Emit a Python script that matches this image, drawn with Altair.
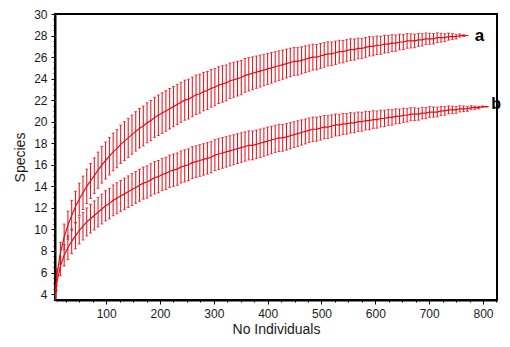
import altair as alt
import pandas as pd

RED = "#e60a14"

# ---- data: rarefaction curves (mean species, 95% half-width) ----
a_n = list(range(1, 765, 7)) + [770]
a_s = [1.0, 5.6, 7.8, 9.3, 10.4, 11.3, 12.1, 12.8, 13.4, 14.0,
       14.5, 15.0, 15.5, 16.0, 16.4, 16.8, 17.2, 17.5, 17.9, 18.2,
       18.5, 18.8, 19.1, 19.4, 19.6, 19.9, 20.1, 20.4, 20.6, 20.8,
       21.0, 21.2, 21.4, 21.6, 21.8, 22.0, 22.1, 22.3, 22.5, 22.6,
       22.8, 22.9, 23.1, 23.2, 23.4, 23.5, 23.6, 23.8, 23.9, 24.0,
       24.1, 24.3, 24.4, 24.5, 24.6, 24.7, 24.8, 24.9, 25.0, 25.1,
       25.2, 25.3, 25.4, 25.5, 25.6, 25.6, 25.7, 25.8, 25.9, 26.0,
       26.0, 26.1, 26.2, 26.3, 26.3, 26.4, 26.5, 26.5, 26.6, 26.7,
       26.7, 26.8, 26.8, 26.9, 27.0, 27.0, 27.1, 27.1, 27.2, 27.2,
       27.3, 27.3, 27.4, 27.4, 27.5, 27.5, 27.5, 27.6, 27.6, 27.7,
       27.7, 27.7, 27.8, 27.8, 27.8, 27.9, 27.9, 27.9, 28.0, 28.0,
       28.0]
a_h = [0.0, 0.8, 1.0, 1.2, 1.3, 1.4, 1.45, 1.5, 1.55, 1.6,
       1.62, 1.65, 1.68, 1.7, 1.72, 1.74, 1.75, 1.77, 1.78, 1.8,
       1.81, 1.82, 1.83, 1.84, 1.85, 1.86, 1.87, 1.87, 1.88, 1.88,
       1.88, 1.88, 1.87, 1.87, 1.86, 1.86, 1.85, 1.84, 1.83, 1.81,
       1.79, 1.77, 1.75, 1.73, 1.71, 1.69, 1.67, 1.65, 1.63, 1.61,
       1.59, 1.57, 1.55, 1.52, 1.5, 1.48, 1.46, 1.44, 1.42, 1.4,
       1.38, 1.36, 1.34, 1.32, 1.3, 1.28, 1.26, 1.24, 1.22, 1.2,
       1.18, 1.16, 1.14, 1.12, 1.1, 1.08, 1.06, 1.04, 1.02, 1.0,
       0.98, 0.96, 0.94, 0.92, 0.9, 0.88, 0.86, 0.84, 0.82, 0.8,
       0.78, 0.76, 0.73, 0.71, 0.68, 0.66, 0.63, 0.6, 0.57, 0.54,
       0.51, 0.48, 0.45, 0.41, 0.37, 0.33, 0.28, 0.22, 0.15, 0.07,
       0.0]

b_n = list(range(1, 807, 7)) + [808]
b_s = [1.0, 5.0, 6.6, 7.6, 8.3, 8.9, 9.4, 9.9, 10.3, 10.7,
       11.0, 11.3, 11.6, 11.9, 12.2, 12.4, 12.7, 12.9, 13.1, 13.3,
       13.5, 13.7, 13.9, 14.1, 14.3, 14.4, 14.6, 14.8, 14.9, 15.1,
       15.2, 15.4, 15.5, 15.6, 15.8, 15.9, 16.0, 16.2, 16.3, 16.4,
       16.5, 16.6, 16.7, 16.9, 17.0, 17.1, 17.2, 17.3, 17.4, 17.5,
       17.6, 17.7, 17.8, 17.8, 17.9, 18.0, 18.1, 18.2, 18.3, 18.4,
       18.5, 18.5, 18.6, 18.7, 18.8, 18.9, 19.0, 19.1, 19.2, 19.3,
       19.3, 19.4, 19.5, 19.5, 19.6, 19.7, 19.7, 19.8, 19.8, 19.9,
       19.9, 20.0, 20.0, 20.1, 20.1, 20.2, 20.2, 20.3, 20.3, 20.4,
       20.4, 20.5, 20.5, 20.6, 20.6, 20.7, 20.7, 20.7, 20.8, 20.8,
       20.9, 20.9, 20.9, 21.0, 21.0, 21.1, 21.1, 21.1, 21.2, 21.2,
       21.2, 21.3, 21.3, 21.3, 21.4, 21.4,
       21.4]
b_h = [0.0, 0.7, 0.9, 1.0, 1.1, 1.15, 1.2, 1.25, 1.28, 1.3,
       1.33, 1.35, 1.37, 1.39, 1.4, 1.42, 1.43, 1.44, 1.45, 1.46,
       1.47, 1.48, 1.48, 1.49, 1.49, 1.5, 1.5, 1.5, 1.5, 1.5,
       1.5, 1.5, 1.5, 1.5, 1.49, 1.49, 1.48, 1.48, 1.47, 1.47,
       1.46, 1.46, 1.45, 1.44, 1.43, 1.42, 1.41, 1.4, 1.39, 1.38,
       1.37, 1.36, 1.35, 1.34, 1.33, 1.32, 1.31, 1.3, 1.28, 1.27,
       1.26, 1.24, 1.23, 1.22, 1.2, 1.19, 1.17, 1.16, 1.14, 1.13,
       1.11, 1.1, 1.08, 1.06, 1.04, 1.02, 1.0, 0.98, 0.96, 0.94,
       0.92, 0.9, 0.88, 0.86, 0.84, 0.82, 0.8, 0.78, 0.76, 0.74,
       0.72, 0.7, 0.68, 0.66, 0.63, 0.61, 0.59, 0.56, 0.54, 0.52,
       0.5, 0.47, 0.45, 0.42, 0.4, 0.37, 0.35, 0.32, 0.29, 0.26,
       0.23, 0.19, 0.15, 0.11, 0.06, 0.02,
       0.0]

x_major = [100, 200, 300, 400, 500, 600, 700, 800]
y_major = list(range(4, 31, 2))
x_minor = list(range(25, 826, 25))
y_minor = [v / 2 for v in range(8, 61)]

rows = []
for name, ns, ss, hs in [("a", a_n, a_s, a_h), ("b", b_n, b_s, b_h)]:
    for n, s, h in zip(ns, ss, hs):
        rows.append({"series": name, "n": n, "s": s, "lo": s - h, "hi": s + h})
df = pd.DataFrame(rows)

labels = pd.DataFrame({
    "series": ["a", "b"],
    "n": [a_n[-1], b_n[-1]],
    "s": [a_s[-1], b_s[-1]],
    "text": ["a", "b"],
})

FONT = "Liberation Sans"
xs = alt.Scale(domain=[5, 826], nice=False, zero=False)
ys = alt.Scale(domain=[3.45, 30], nice=False, zero=False)

major_x = alt.Axis(values=x_major, orient="bottom", title="No Individuals", grid=False,
                   domainColor="black", domainWidth=2, tickColor="black", tickSize=4,
                   labelFont=FONT, labelFontSize=12, labelColor="#1a1a1a", labelPadding=4,
                   titleFont=FONT, titleFontSize=14, titleFontWeight="normal",
                   titleColor="#1a1a1a", titlePadding=3, labelFlush=False)
major_y = alt.Axis(values=y_major, orient="left", title="Species", grid=False,
                   domainColor="black", domainWidth=2, tickColor="black", tickSize=4,
                   labelFont=FONT, labelFontSize=12, labelColor="#1a1a1a", labelPadding=4,
                   titleFont=FONT, titleFontSize=14, titleFontWeight="normal",
                   titleColor="#1a1a1a", titlePadding=6, labelFlush=False)
minor_x = alt.Axis(values=x_minor, orient="bottom", title="", grid=False, labels=False,
                   domain=False, tickColor="black", tickSize=2)
minor_y = alt.Axis(values=y_minor, orient="left", title="", grid=False, labels=False,
                   domain=False, tickColor="black", tickSize=2)

base = alt.Chart(df)

rules = base.mark_rule(color=RED, strokeWidth=1, clip=True).encode(
    x=alt.X("n:Q", scale=xs, axis=major_x),
    y=alt.Y("lo:Q", scale=ys, axis=major_y),
    y2="hi:Q",
)
caps_lo = base.mark_tick(color=RED, orient="horizontal", size=3, thickness=1, clip=True).encode(
    x=alt.X("n:Q", scale=xs, axis=None),
    y=alt.Y("lo:Q", scale=ys, axis=None),
)
caps_hi = base.mark_tick(color=RED, orient="horizontal", size=3, thickness=1, clip=True).encode(
    x=alt.X("n:Q", scale=xs, axis=None),
    y=alt.Y("hi:Q", scale=ys, axis=None),
)
line = base.mark_line(color=RED, strokeWidth=1.2, clip=True).encode(
    x=alt.X("n:Q", scale=xs, axis=minor_x),
    y=alt.Y("s:Q", scale=ys, axis=minor_y),
    detail="series:N",
)
text_a = alt.Chart(labels).transform_filter(alt.datum.series == "a").mark_text(
    align="left", baseline="middle", font=FONT, fontSize=17, fontWeight="bold",
    color="black", dx=8, dy=0
).encode(
    x=alt.X("n:Q", scale=xs, axis=None),
    y=alt.Y("s:Q", scale=ys, axis=None),
    text="text:N",
)
text_b = alt.Chart(labels).transform_filter(alt.datum.series == "b").mark_text(
    align="left", baseline="middle", font=FONT, fontSize=16, fontWeight="bold",
    color="black", dx=4, dy=-3
).encode(
    x=alt.X("n:Q", scale=xs, axis=None),
    y=alt.Y("s:Q", scale=ys, axis=None),
    text="text:N",
)

chart = alt.layer(rules, caps_lo, caps_hi, line, text_a, text_b).resolve_axis(
    x="independent", y="independent"
).properties(
    width=442, height=286,
    padding={"left": 47, "top": 6, "right": 5, "bottom": 37},
    autosize=alt.AutoSizeParams(type="none"),
    background="white",
).configure_view(stroke="black", strokeWidth=2)

chart.save("out.html", embed_options={"renderer": "svg", "actions": False})
